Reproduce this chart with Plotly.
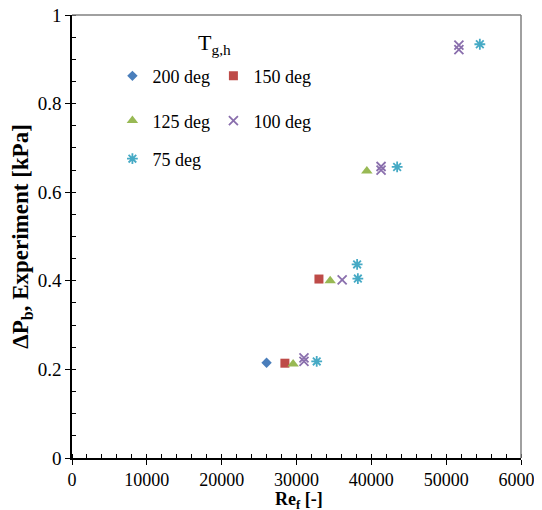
import plotly.graph_objects as go

# Data (Re_f [-], ΔP_b [kPa])
re_200 = [26000]
dp_200 = [0.215]
re_150 = [28450, 33000]
dp_150 = [0.214, 0.404]
re_125 = [29550, 34500, 39400]
dp_125 = [0.212, 0.400, 0.648]
re_100 = [31000, 31000, 36100, 41300, 41300, 51700, 51700]
dp_100 = [0.226, 0.218, 0.402, 0.658, 0.650, 0.932, 0.922]
re_75 = [32700, 38200, 38100, 43450, 54500]
dp_75 = [0.218, 0.405, 0.437, 0.657, 0.934]

series = [
    ("200 deg", re_200, dp_200, "diamond", "#4a7ebb", 8, "legend"),
    ("150 deg", re_150, dp_150, "square", "#be4b48", 9, "legend"),
    ("125 deg", re_125, dp_125, "triangle-up", "#98b954", 10, "legend2"),
    ("100 deg", re_100, dp_100, "x-thin", "#8a6fad", 9, "legend2"),
    ("75 deg", re_75, dp_75, "asterisk", "#46aac5", 9, "legend3"),
]

FONT = "Liberation Serif"
FS = 18
fig = go.Figure()
for name, xs, ys, sym, col, sz, lg in series:
    thin = sym in ("x-thin", "asterisk")
    fig.add_trace(go.Scatter(
        x=xs, y=ys, mode="markers", name=name, legend=lg,
        marker=dict(symbol=sym, size=sz, color=col,
                    line=dict(width=1.8 if thin else 0, color=col)),
    ))

leg_common = dict(orientation="h", bgcolor="rgba(0,0,0,0)",
                  font=dict(family=FONT, size=FS, color="#000"),
                  xanchor="left", yanchor="middle", itemwidth=30,
                  tracegroupgap=0, entrywidth=56)

# the page adds an 8px body margin, so the figure is sized 8px smaller
fig.update_layout(
    width=534, height=502,
    margin=dict(l=64, r=21, t=7, b=52),
    paper_bgcolor="white", plot_bgcolor="white",
    font=dict(family=FONT, size=FS, color="#000"),
    showlegend=True,
    legend=dict(x=0.09, y=0.862, **leg_common),
    legend2=dict(x=0.09, y=0.761, **leg_common),
    legend3=dict(x=0.09, y=0.675, **leg_common),
    xaxis=dict(range=[0, 60000], dtick=10000, tickformat="d",
               showgrid=False, zeroline=False, automargin=False,
               ticklabeloverflow="allow",
               showline=True, linecolor="#000", linewidth=1.5,
               ticks="outside", ticklen=5, tickcolor="#000",
               minor=dict(dtick=2000, ticks="inside", ticklen=4, tickcolor="#000"),
               tickfont=dict(family=FONT, size=FS)),
    yaxis=dict(range=[0, 1], dtick=0.2,
               showgrid=False, zeroline=False, automargin=False,
               ticklabeloverflow="allow",
               showline=True, linecolor="#000", linewidth=1.5,
               ticks="outside", ticklen=5, tickcolor="#000",
               minor=dict(dtick=0.05, ticks="inside", ticklen=4, tickcolor="#000"),
               tickfont=dict(family=FONT, size=19),
               title=dict(text="<b>ΔP<sub>b</sub>, Experiment [kPa]</b>", standoff=5,
                          font=dict(family=FONT, size=23))),
    shapes=[
        dict(type="line", xref="paper", yref="paper", x0=0, x1=1, y0=1, y1=1,
             line=dict(color="#808080", width=1.5)),
        dict(type="line", xref="paper", yref="paper", x0=1, x1=1, y0=0, y1=1,
             line=dict(color="#808080", width=1.5)),
    ],
    annotations=[
        dict(text="T<sub>g,h</sub>", xref="paper", yref="paper",
             x=0.318, y=0.935, xanchor="center", yanchor="middle", showarrow=False,
             font=dict(family=FONT, size=22, color="#000")),
        dict(text="<b>Re<sub>f</sub> [-]</b>", xref="paper", yref="paper",
             x=0.505, y=0, yshift=-42, xanchor="center", yanchor="middle",
             showarrow=False, font=dict(family=FONT, size=FS, color="#000")),
    ],
)

fig.write_html("out.html")
